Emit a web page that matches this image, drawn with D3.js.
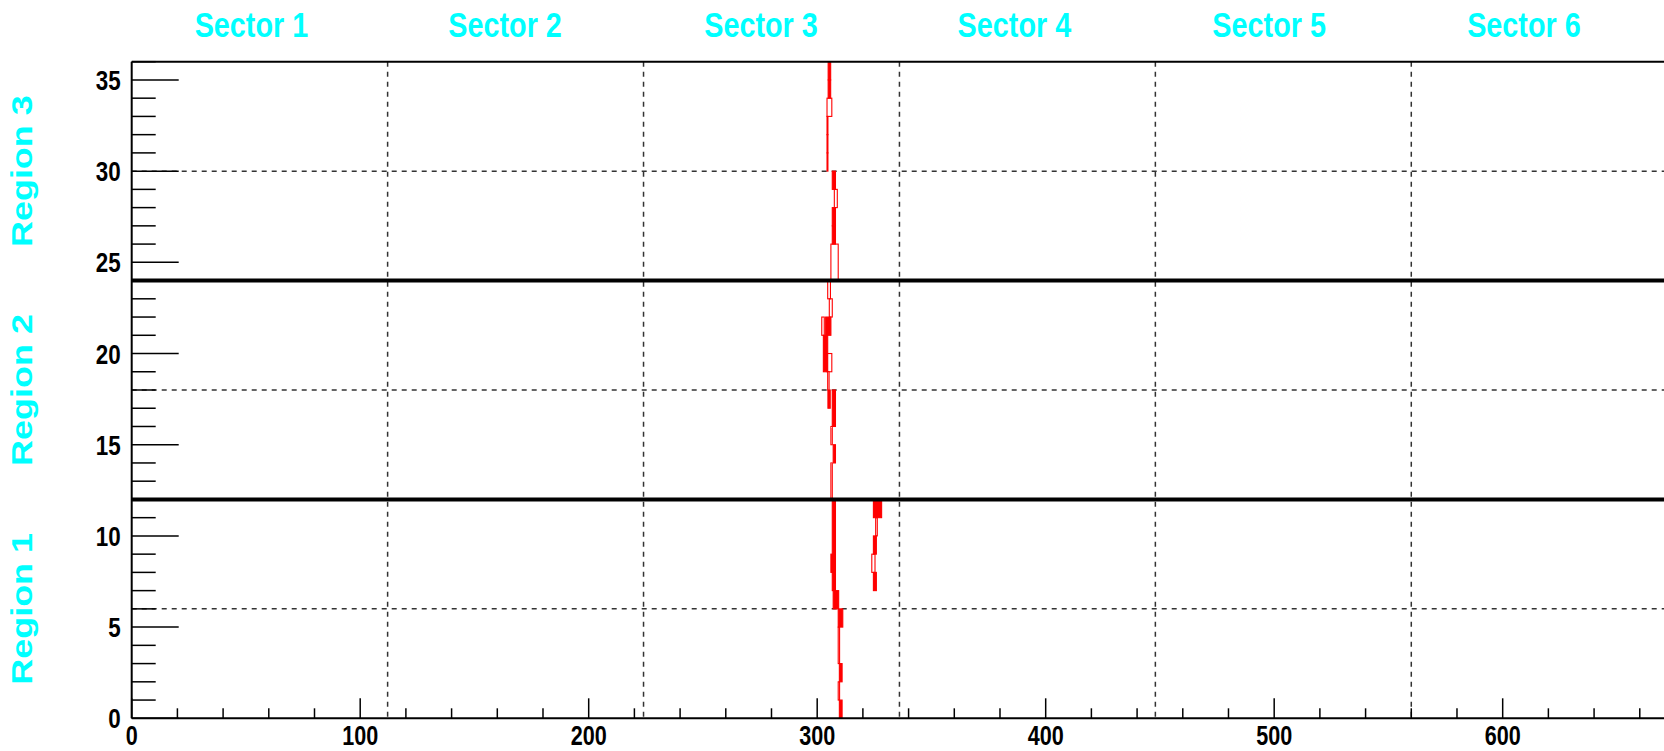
<!DOCTYPE html>
<html>
<head>
<meta charset="utf-8">
<script src="https://cdn.jsdelivr.net/npm/d3@7/dist/d3.min.js"></script>
<style>
  html, body { margin: 0; padding: 0; background: #fff; overflow: hidden; }
  svg { display: block; }
  text { font-family: "Liberation Sans", Arial, Helvetica, sans-serif; font-weight: bold; }
</style>
</head>
<body>
<svg id="chart" width="1664" height="751"></svg>
<script>
// wire (x) vs layer (y) hit display, 6 sectors x 112 wires, 3 regions x 12 layers
const sectorNames = ['Sector 1', 'Sector 2', 'Sector 3', 'Sector 4', 'Sector 5', 'Sector 6'];
const sectorLabelAt = [52.4, 163.4, 275.4, 386.3, 497.8, 609.3];
const sectorEdges = [112, 224, 336, 448, 560];
const regionNames = ['Region 1', 'Region 2', 'Region 3'];
const regionCenters = [6, 18, 30];
const regionEdges = [12, 24];
const xTickLabels = [0, 100, 200, 300, 400, 500, 600];
const yTickLabels = [0, 5, 10, 15, 20, 25, 30, 35];

// hits: layer bin, wire range, number of layer bins, filled box or outline
const hitLayer = [35, 34, 33, 32, 31, 30, 29, 28, 27, 26, 24, 23, 22, 21, 21, 19, 19, 18, 17, 16, 15, 14, 12,
                  7, 8, 6, 5, 3, 2, 1, 0,
                  11, 10, 9, 8, 7];
const hitWire0 = [304.8, 304.8, 304.3, 304.3, 304.3, 304.3, 306.6, 307.5, 306.6, 306.6, 306.0, 304.6, 305.3, 302.0, 303.7, 302.7, 304.3, 304.6, 304.7, 306.6, 306.0, 307.0, 306.0,
                  306.6, 306.0, 307.0, 309.2, 309.2, 309.7, 309.2, 309.7,
                  324.6, 325.6, 324.6, 323.9, 324.6];
const hitWire1 = [305.9, 305.9, 306.4, 304.7, 304.7, 304.7, 308.0, 308.8, 308.0, 308.0, 309.2, 305.8, 306.6, 303.1, 306.0, 304.6, 306.4, 305.2, 305.7, 308.0, 306.6, 308.0, 306.6,
                  308.0, 306.9, 309.4, 311.2, 309.8, 310.9, 309.8, 310.9,
                  328.2, 326.3, 325.9, 325.3, 325.9];
const hitRows  = [1, 1, 1, 1, 1, 1, 1, 1, 1, 1, 2, 1, 1, 1, 1, 2, 1, 1, 1, 2, 1, 1, 2,
                  5, 1, 1, 1, 2, 1, 1, 1,
                  1, 1, 1, 1, 1];
const hitFilled = [1, 1, 0, 0, 0, 0, 1, 0, 1, 1, 0, 0, 0, 0, 1, 1, 0, 0, 1, 1, 0, 1, 0,
                   1, 1, 1, 1, 0, 1, 0, 1,
                   1, 0, 1, 0, 1];

const svg = d3.select('#chart');
const x = d3.scaleLinear().domain([0, 672]).range([131.7, 1667.2]);
const y = d3.scaleLinear().domain([0, 36]).range([718.3, 61.7]);
const CYAN = '#00ffff';
const SQ = 0.8; // the picture is horizontally squeezed

// dashed grid
svg.selectAll('line.vgrid').data(sectorEdges).enter().append('line')
  .attr('x1', d => x(d)).attr('x2', d => x(d)).attr('y1', y(36)).attr('y2', y(0))
  .attr('stroke', '#333').attr('stroke-width', 1.5).attr('stroke-dasharray', '5,5');
svg.selectAll('line.hgrid').data(regionCenters).enter().append('line')
  .attr('x1', x(0)).attr('x2', x(672)).attr('y1', d => y(d)).attr('y2', d => y(d))
  .attr('stroke', '#333').attr('stroke-width', 1.5).attr('stroke-dasharray', '5,5');

// y ticks (inside, pointing right)
svg.selectAll('line.yt').data(d3.range(0, 37)).enter().append('line')
  .attr('x1', x(0)).attr('x2', d => x(0) + (d % 5 === 0 ? 47 : 24))
  .attr('y1', d => y(d)).attr('y2', d => y(d))
  .attr('stroke', '#000').attr('stroke-width', 1.5);
// x ticks (inside, pointing up)
svg.selectAll('line.xt').data(d3.range(0, 672, 20)).enter().append('line')
  .attr('x1', d => x(d)).attr('x2', d => x(d))
  .attr('y1', y(0)).attr('y2', d => y(0) - (d % 100 === 0 ? 20 : 10))
  .attr('stroke', '#000').attr('stroke-width', 1.5);

// hits
const hits = hitLayer.map((l, i) => ({ l, w0: hitWire0[i], w1: hitWire1[i], rows: hitRows[i], filled: hitFilled[i] }));
svg.selectAll('rect.hit').data(hits).enter().append('rect')
  .attr('x', d => x(d.w0)).attr('width', d => x(d.w1) - x(d.w0))
  .attr('y', d => y(d.l + d.rows)).attr('height', d => y(d.l) - y(d.l + d.rows))
  .attr('fill', d => d.filled ? 'red' : 'none')
  .attr('stroke', 'red').attr('stroke-width', 1.1);

// frame and region separators
svg.append('line').attr('x1', x(0)).attr('x2', x(0)).attr('y1', y(36)).attr('y2', y(0))
  .attr('stroke', '#000').attr('stroke-width', 2);
svg.append('line').attr('x1', x(0)).attr('x2', x(672)).attr('y1', y(36)).attr('y2', y(36))
  .attr('stroke', '#000').attr('stroke-width', 2);
svg.append('line').attr('x1', x(0)).attr('x2', x(672)).attr('y1', y(0)).attr('y2', y(0))
  .attr('stroke', '#000').attr('stroke-width', 2);
svg.selectAll('line.reg').data(regionEdges).enter().append('line')
  .attr('x1', x(0)).attr('x2', x(672)).attr('y1', d => y(d)).attr('y2', d => y(d))
  .attr('stroke', '#000').attr('stroke-width', 4);

// tick labels
svg.selectAll('text.ylab').data(yTickLabels).enter().append('text')
  .attr('transform', d => `translate(${x(0) - 11},${y(d) + 10}) scale(${SQ},1)`)
  .attr('text-anchor', 'end').attr('font-size', 28).attr('fill', '#000')
  .text(d => d);
svg.selectAll('text.xlab').data(xTickLabels).enter().append('text')
  .attr('transform', d => `translate(${x(d)},${y(0) + 27}) scale(${SQ},1)`)
  .attr('text-anchor', 'middle').attr('font-size', 27).attr('fill', '#000')
  .text(d => d);

// sector and region titles
svg.selectAll('text.sec').data(sectorNames).enter().append('text')
  .attr('transform', (d, i) => `translate(${x(sectorLabelAt[i])},36.5) scale(${SQ},1)`)
  .attr('text-anchor', 'middle').attr('font-size', 36).attr('fill', CYAN)
  .text(d => d);
svg.selectAll('text.reg').data(regionNames).enter().append('text')
  .attr('transform', (d, i) => `translate(32,${y(regionCenters[i])}) rotate(-90) scale(1,${SQ})`)
  .attr('text-anchor', 'middle').attr('font-size', 36).attr('fill', CYAN)
  .text(d => d);
</script>
</body>
</html>
